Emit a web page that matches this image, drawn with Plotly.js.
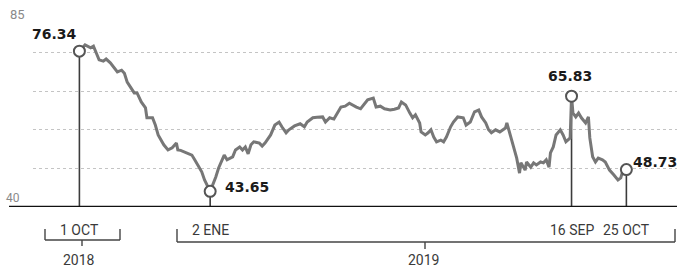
<!DOCTYPE html>
<html>
<head>
<meta charset="utf-8">
<script src="https://cdn.plot.ly/plotly-3.0.1.min.js"></script>
<style>html,body{margin:0;padding:0;background:#fff;}#chart{width:677px;height:272px;}</style>
</head>
<body>
<div id="chart"></div>
<script>
const dates = [
'2018-10-01','2018-10-05','2018-10-09','2018-10-11','2018-10-13','2018-10-15','2018-10-18','2018-10-20','2018-10-23','2018-10-26','2018-10-28','2018-10-31',
'2018-11-02','2018-11-04','2018-11-07','2018-11-09','2018-11-11','2018-11-14','2018-11-17','2018-11-18','2018-11-22','2018-11-24','2018-11-26','2018-11-30',
'2018-12-03','2018-12-06','2018-12-09','2018-12-10','2018-12-12','2018-12-16','2018-12-20','2018-12-22','2018-12-25','2018-12-27','2018-12-29',
'2019-01-02','2019-01-06','2019-01-08','2019-01-12','2019-01-14','2019-01-18','2019-01-20','2019-01-23','2019-01-25','2019-01-27','2019-01-29','2019-01-31',
'2019-02-02','2019-02-06','2019-02-08','2019-02-10','2019-02-14','2019-02-17','2019-02-20','2019-02-22','2019-02-25','2019-02-27',
'2019-03-03','2019-03-07','2019-03-10','2019-03-12','2019-03-16','2019-03-19','2019-03-23','2019-03-25','2019-03-28','2019-03-31',
'2019-04-03','2019-04-05','2019-04-08','2019-04-11','2019-04-16','2019-04-19','2019-04-24','2019-04-28','2019-04-30',
'2019-05-03','2019-05-06','2019-05-10','2019-05-13','2019-05-16','2019-05-18','2019-05-21','2019-05-24','2019-05-26','2019-05-28','2019-05-31',
'2019-06-01','2019-06-04','2019-06-06','2019-06-08','2019-06-10','2019-06-12','2019-06-15','2019-06-17','2019-06-19','2019-06-22','2019-06-24','2019-06-27',
'2019-07-01','2019-07-03','2019-07-06','2019-07-09','2019-07-12','2019-07-14','2019-07-17','2019-07-19','2019-07-21','2019-07-24','2019-07-27','2019-07-31',
'2019-08-01','2019-08-04','2019-08-06','2019-08-08','2019-08-10','2019-08-11','2019-08-14','2019-08-15','2019-08-18','2019-08-20','2019-08-22','2019-08-25','2019-08-27','2019-08-29','2019-08-31',
'2019-09-01','2019-09-03','2019-09-05','2019-09-08','2019-09-10','2019-09-12','2019-09-15','2019-09-16','2019-09-17','2019-09-19','2019-09-21','2019-09-23','2019-09-26','2019-09-28','2019-09-29',
'2019-10-01','2019-10-03','2019-10-05','2019-10-08','2019-10-10','2019-10-13','2019-10-16','2019-10-19','2019-10-21','2019-10-22','2019-10-24','2019-10-25'
];
const values = [
76.34,77.8,77.1,77.5,75.9,74.3,74.0,74.5,73.6,72.4,71.5,71.9,
71.2,69.1,67.7,66.6,66.6,64.5,63.1,60.8,60.8,59.1,56.8,54.5,
53.3,53.8,54.9,53.3,53.2,52.6,52.1,51.0,49.3,48.2,46.3,
43.65,47.0,49.1,52.1,51.0,51.7,53.3,54.0,53.3,54.0,52.4,54.5,
55.2,54.9,54.2,54.9,56.8,59.1,59.8,58.7,57.3,58.0,
58.9,59.4,58.7,59.8,60.8,60.9,61.0,59.8,60.8,60.5,
62.2,63.3,63.5,64.2,63.3,62.9,65.0,65.4,63.3,
63.5,62.9,62.6,62.8,63.1,64.5,63.8,61.9,60.8,61.5,59.6,
57.5,56.8,57.3,58.0,56.3,55.2,55.6,55.2,56.3,58.7,59.8,61.0,
60.8,59.1,59.8,62.2,62.6,61.0,59.6,58.0,57.3,58.0,57.5,58.4,
59.6,56.3,53.8,51.4,47.9,50.3,48.6,50.5,49.3,50.3,49.8,50.5,50.3,51.0,49.3,
52.6,54.0,56.8,58.0,56.8,55.2,56.1,65.83,61.9,61.0,61.9,60.8,59.6,61.0,56.1,
51.7,50.5,51.4,51.0,50.5,48.6,47.5,46.3,46.8,47.9,48.6,48.73
];
const markDates = ['2018-10-01','2019-01-02','2019-09-16','2019-10-25'];
const markValues = [76.34,43.65,65.83,48.73];
const markLabels = ['76.34','43.65','65.83','48.73'];
const dateLabels = ['1 OCT','2 ENE','16 SEP','25 OCT'];
const yearLabels = ['2018','2019'];
const yearDates = ['2018-10-01','2019-06-03'];
const yTicks = [40,49,58,67,76,85];
const yShown = [85,40];

// layout helpers (pixel -> paper)
const L = 33, W = 644, T = 14, H = 193;
const px = p => (p - L) / W;
const py = p => (T + H - p) / H;

const valueOffsets = [
  {xanchor:'center', xshift:-25, yshift:17},
  {xanchor:'left', xshift:13, yshift:4},
  {xanchor:'center', xshift:-2, yshift:20},
  {xanchor:'left', xshift:5, yshift:8}
];

const shapes = [];
// baseline
shapes.push({type:'line', xref:'paper', yref:'y', x0:px(9), x1:1.02, y0:40, y1:40, line:{color:'#111', width:2.5}});
// drop lines
markDates.forEach((d,i)=>{
  shapes.push({type:'line', xref:'x', yref:'y', x0:d, x1:d, y0:40, y1:markValues[i], line:{color:'#3c3c3c', width:1.6}, layer:'below'});
});
// brackets
const brk = (x0,x1,ytop,ybot,xc,ytick)=>{
  const st = {color:'#444', width:1.4};
  shapes.push({type:'line', xref:'paper', yref:'paper', x0:px(x0), x1:px(x0), y0:py(ytop), y1:py(ybot), line:st});
  shapes.push({type:'line', xref:'paper', yref:'paper', x0:px(x0), x1:px(x1), y0:py(ybot), y1:py(ybot), line:st});
  shapes.push({type:'line', xref:'paper', yref:'paper', x0:px(x1), x1:px(x1), y0:py(ytop), y1:py(ybot), line:st});
  shapes.push({type:'line', xref:'paper', yref:'paper', x0:px(xc), x1:px(xc), y0:py(ybot), y1:py(ytick), line:st});
};
brk(45,120,229,240,82,246);
brk(177,675,229,242,425,249);

const annotations = [];
markLabels.forEach((t,i)=>{
  const o = valueOffsets[i];
  annotations.push({x:markDates[i], y:markValues[i], xref:'x', yref:'y', text:t, showarrow:false,
    xanchor:o.xanchor, yanchor:'middle', xshift:o.xshift, yshift:o.yshift,
    font:{family:'DejaVu Sans', size:14, color:'#1a1a1a', weight:700}});
});
dateLabels.forEach((t,i)=>{
  annotations.push({x:markDates[i], y:py(230), xref:'x', yref:'paper', text:t, showarrow:false,
    xanchor:'center', yanchor:'middle', font:{family:'Roboto', size:14, color:'#3a3a3a'}});
});
yearLabels.forEach((t,i)=>{
  annotations.push({x:yearDates[i], y:py(260), xref:'x', yref:'paper', text:t, showarrow:false,
    xanchor:'center', yanchor:'middle', font:{family:'Roboto', size:14, color:'#3a3a3a'}});
});
annotations.push({x:px(17), y:85, xref:'paper', yref:'y', text:String(yShown[0]), showarrow:false,
  xanchor:'center', yanchor:'middle', font:{family:'Roboto', size:13, color:'#8a8a8a'}});
annotations.push({x:px(13), y:py(198), xref:'paper', yref:'paper', text:String(yShown[1]), showarrow:false,
  xanchor:'center', yanchor:'middle', font:{family:'Roboto', size:12, color:'#8a8a8a'}});

const traces = [
  {x:dates, y:values, type:'scatter', mode:'lines', line:{color:'#777', width:3}, hoverinfo:'skip'},
  {x:markDates, y:markValues, type:'scatter', mode:'markers',
   marker:{symbol:'circle', size:11, color:'#fff', line:{color:'#555', width:2}}, hoverinfo:'skip'}
];

const layout = {
  width:677, height:272,
  margin:{l:L, r:0, t:T, b:272-T-H, pad:0},
  paper_bgcolor:'#fff', plot_bgcolor:'#fff',
  showlegend:false,
  xaxis:{type:'date', range:['2018-08-29','2019-11-30'], showgrid:false, showticklabels:false,
         zeroline:false, showline:false, ticks:''},
  yaxis:{range:[40,85], tickvals:yTicks, showticklabels:false, gridcolor:'#c4c4c4', griddash:'dot',
         gridwidth:1, zeroline:false, showline:false, ticks:''},
  shapes:shapes,
  annotations:annotations
};
Plotly.newPlot('chart', traces, layout, {displayModeBar:false, staticPlot:true});
</script>
</body>
</html>
